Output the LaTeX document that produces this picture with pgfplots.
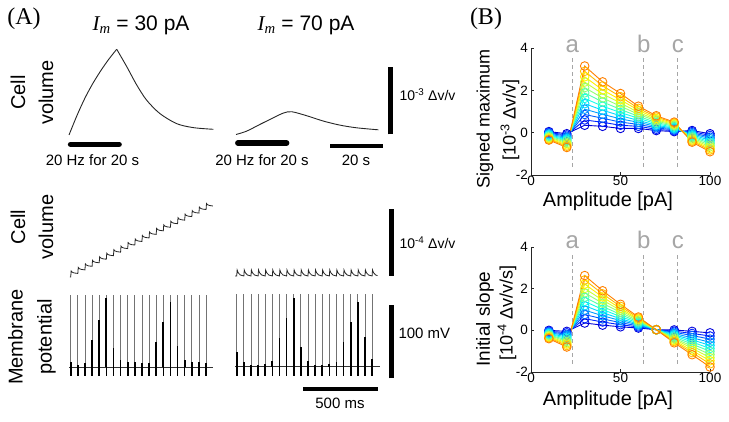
\documentclass[border=0pt]{standalone}
\usepackage{fontspec}
\setmainfont{Liberation Sans}
\newfontfamily\timesfont{Liberation Serif}
\usepackage{pgfplots}
\pgfplotsset{compat=1.18}
\usepackage{pgfplotstable}

\newcommand{\fs}[1]{\fontsize{#1}{#1}\selectfont}

\definecolor{c0}{rgb}{0,0,0.85}
\definecolor{c1}{rgb}{0,0.14,1}
\definecolor{c2}{rgb}{0,0.37,1}
\definecolor{c3}{rgb}{0,0.61,1}
\definecolor{c4}{rgb}{0,0.85,1}
\definecolor{c5}{rgb}{0.08,1,0.92}
\definecolor{c6}{rgb}{0.32,1,0.68}
\definecolor{c7}{rgb}{0.56,1,0.45}
\definecolor{c8}{rgb}{0.79,1,0.21}
\definecolor{c9}{rgb}{1,0.95,0}
\definecolor{c10}{rgb}{1,0.74,0}
\definecolor{c11}{rgb}{1,0.5,0}

% Panel B, top: signed maximum [1e-3 dv/v], 12 series
\pgfplotstableread{
x s0 s1 s2 s3 s4 s5 s6 s7 s8 s9 s10 s11
10 0.05 0.01 -0.02 -0.06 -0.10 -0.13 -0.17 -0.21 -0.24 -0.28 -0.31 -0.35
20 -0.05 -0.11 -0.17 -0.23 -0.29 -0.35 -0.40 -0.46 -0.52 -0.58 -0.64 -0.70
30 0.35 0.60 0.86 1.11 1.37 1.62 1.88 2.13 2.39 2.64 2.90 3.15
40 0.30 0.49 0.68 0.87 1.06 1.25 1.45 1.64 1.83 2.02 2.21 2.40
50 0.20 0.35 0.50 0.65 0.80 0.95 1.10 1.25 1.40 1.55 1.70 1.85
60 0.20 0.30 0.39 0.49 0.58 0.68 0.77 0.87 0.96 1.06 1.15 1.25
70 0.10 0.16 0.23 0.29 0.35 0.42 0.48 0.55 0.61 0.67 0.74 0.80
80 0.05 0.09 0.13 0.17 0.21 0.25 0.30 0.34 0.38 0.42 0.46 0.50
90 0.10 0.05 0.00 -0.05 -0.10 -0.15 -0.20 -0.25 -0.30 -0.35 -0.40 -0.45
100 -0.05 -0.13 -0.21 -0.28 -0.36 -0.44 -0.51 -0.59 -0.67 -0.75 -0.82 -0.90
}\tabmax

% Panel B, bottom: initial slope [1e-4 dv/v/s]
\pgfplotstableread{
x s0 s1 s2 s3 s4 s5 s6 s7 s8 s9 s10 s11
10 0.00 -0.04 -0.07 -0.11 -0.15 -0.18 -0.22 -0.25 -0.29 -0.33 -0.36 -0.40
20 -0.05 -0.12 -0.19 -0.25 -0.32 -0.39 -0.46 -0.53 -0.60 -0.66 -0.73 -0.80
30 0.35 0.56 0.76 0.97 1.18 1.39 1.59 1.80 2.01 2.22 2.42 2.63
40 0.25 0.40 0.55 0.70 0.85 1.00 1.15 1.30 1.45 1.60 1.75 1.90
50 0.17 0.27 0.37 0.47 0.56 0.66 0.76 0.86 0.96 1.05 1.15 1.25
60 0.11 0.16 0.21 0.26 0.30 0.35 0.40 0.45 0.50 0.54 0.59 0.64
70 0.03 0.03 0.03 0.03 0.03 0.03 0.03 0.03 0.03 0.03 0.03 0.03
80 0.02 -0.04 -0.09 -0.15 -0.21 -0.26 -0.32 -0.38 -0.43 -0.49 -0.54 -0.60
90 -0.05 -0.15 -0.25 -0.36 -0.46 -0.56 -0.66 -0.76 -0.86 -0.97 -1.07 -1.17
100 -0.12 -0.27 -0.42 -0.57 -0.72 -0.87 -1.01 -1.16 -1.31 -1.46 -1.61 -1.76
}\tabslope

% Membrane potential spikes (ms, mV above rest)
\pgfplotstableread{
t top blk dip
12 98 7.3 -13
62 98 2.7 -13
112 98 5.1 -13
162 98 37 -13
212 98 64.4 -13
262 98 94 -13
312 98 25.6 -13
362 98 9.6 -13
412 98 7.3 -13
462 98 7.3 -13
512 98 5.1 -13
562 98 5.1 -13
612 98 34.7 -13
662 98 62.1 -13
712 98 89.5 -13
762 98 28.8 -13
812 98 9.6 -13
862 98 7.3 -13
912 98 7.3 -13
962 98 5.1 -13
}\spikesA

\pgfplotstableread{
t top blk dip
12 99 20.5 -13
62 99 6.4 -13
112 99 2.3 -13
162 99 2.3 -13
212 99 3.7 -13
262 99 7.8 -13
312 99 39.3 -13
362 99 66.7 -13
412 99 94.5 -13
462 99 27.4 -13
512 99 7.8 -13
562 99 2.3 -13
612 99 2.3 -13
662 99 3.7 -13
712 99 6.8 -13
762 99 34.2 -13
812 99 61.2 -13
862 99 89 -13
912 99 41.1 -13
962 99 10.5 -13
}\spikesB

\pgfplotsset{
  trace/.style={scale only axis, hide axis, clip=false, anchor=south west},
  bstyle/.style={scale only axis, anchor=south west, width=179pt,
    xmin=0, xmax=100, ymin=-2, ymax=4,
    axis lines=left, axis line style={-, line width=0.8pt, black!85},
    tick align=inside, major tick length=3pt,
    xtick={0,50,100}, ytick={-2,0,2,4},
    tick style={black!85, line width=0.8pt},
    tick label style={font=\fs{13.5}, inner sep=1pt},
    yticklabel style={xshift=-2pt},
    /pgf/number format/assume math mode=true, clip=false},
}

\begin{document}
\begin{tikzpicture}[x=1pt,y=1pt]
\useasboundingbox (0,0) rectangle (729,421);

% ---------------- Panel A text ----------------
\node[font=\timesfont\fs{24}] at (24,402) {(A)};
\node[font=\fs{21}] at (141,396) {{\timesfont\itshape I\textsubscript{m}} = 30 pA};
\node[font=\fs{21}] at (306,396) {{\timesfont\itshape I\textsubscript{m}} = 70 pA};
\node[font=\fontsize{20}{28}\selectfont, rotate=90, align=center] at (32,328.5) {Cell\\volume};
\node[font=\fontsize{20}{28}\selectfont, rotate=90, align=center] at (32,194) {Cell\\volume};
\node[font=\fontsize{20}{29}\selectfont, rotate=90, align=center] at (32,84) {Membrane\\potential};
\node[font=\fs{15}] at (92.5,261) {20 Hz for 20 s};
\node[font=\fs{15}] at (262,261) {20 Hz for 20 s};
\node[font=\fs{15}] at (356,261) {20 s};
\node[font=\fs{14}, anchor=west] at (396,326) {10\textsuperscript{-3} Δv/v};
\node[font=\fs{14}, anchor=west] at (396,178) {10\textsuperscript{-4} Δv/v};
\node[font=\fs{15}, anchor=west] at (395,88) {100 mV};
\node[font=\fs{15}] at (340,17.5) {500 ms};

% slow volume, 30 pA (s, 1e-3 dv/v)
\begin{axis}[trace, at={(69pt,265.9pt)}, width=159pt, height=120.6pt,
  xmin=0, xmax=60, ymin=-0.3, ymax=1.5]
\addplot[black!85, line width=0.9pt, smooth] coordinates {(0,0) (3,0.29) (6,0.55) (9,0.77) (12,0.96) (15,1.13) (18,1.28)};
\addplot[black!85, line width=0.9pt, smooth] coordinates {(18,1.28) (21.8,1.02) (25.5,0.75) (29.3,0.52) (34.3,0.32) (40.6,0.17) (46.9,0.11) (54.5,0.085)};
\addplot[black, line width=5.5pt, line cap=round] coordinates {(0.6,-0.14) (18.9,-0.14)};
\end{axis}

% slow volume, 70 pA
\begin{axis}[trace, at={(236pt,266.4pt)}, width=159pt, height=120.6pt,
  xmin=0, xmax=60, ymin=-0.3, ymax=1.5]
\addplot[black!85, line width=0.9pt, smooth] coordinates {(0,0) (4.0,0.05) (9.0,0.15) (14.1,0.25) (17.9,0.32) (21.0,0.34) (26.7,0.28) (33.0,0.20) (39.2,0.14) (45.5,0.10) (53.7,0.07)};
\addplot[black, line width=5.5pt, line cap=round] coordinates {(0.7,-0.127) (19.1,-0.127)};
\addplot[black, line width=4.5pt] coordinates {(35.5,-0.17) (55.5,-0.17)};
\addplot[black, line width=5pt] coordinates {(58.3,0) (58.3,1)};
\end{axis}

% fast volume, 30 pA (ms, 1e-4 dv/v)
\begin{axis}[trace, at={(69pt,130.6pt)}, width=149.6pt, height=100.5pt,
  xmin=0, xmax=1050, ymin=-0.2, ymax=1.3]
\addplot[black!85, line width=0.8pt] coordinates {(7,0) (12,0) (15,0.09) (22,0.072) (37,0.06) (62,0.053) (65,0.143) (72,0.125) (87,0.113) (112,0.106) (115,0.196) (122,0.178) (137,0.166) (162,0.159) (165,0.249) (172,0.231) (187,0.219) (212,0.212) (215,0.302) (222,0.284) (237,0.272) (262,0.265) (265,0.355) (272,0.337) (287,0.325) (312,0.318) (315,0.408) (322,0.39) (337,0.378) (362,0.371) (365,0.461) (372,0.443) (387,0.431) (412,0.424) (415,0.514) (422,0.496) (437,0.484) (462,0.477) (465,0.567) (472,0.549) (487,0.537) (512,0.53) (515,0.62) (522,0.602) (537,0.59) (562,0.583) (565,0.673) (572,0.655) (587,0.643) (612,0.636) (615,0.726) (622,0.708) (637,0.696) (662,0.689) (665,0.779) (672,0.761) (687,0.749) (712,0.742) (715,0.832) (722,0.814) (737,0.802) (762,0.795) (765,0.885) (772,0.867) (787,0.855) (812,0.848) (815,0.938) (822,0.92) (837,0.908) (862,0.901) (865,0.991) (872,0.973) (887,0.961) (912,0.954) (915,1.044) (922,1.026) (937,1.014) (962,1.007) (965,1.097) (972,1.079) (987,1.067) (1010,1.06)};
\end{axis}

% fast volume, 70 pA
\begin{axis}[trace, at={(235pt,131.6pt)}, width=159.6pt, height=100.5pt,
  xmin=0, xmax=1120, ymin=-0.2, ymax=1.3]
\addplot[black!85, line width=0.8pt] coordinates {(0,0) (12,0) (15,0.09) (22,0.05) (37,0.015) (62,0) (65,0.09) (72,0.05) (87,0.015) (112,0) (115,0.09) (122,0.05) (137,0.015) (162,0) (165,0.09) (172,0.05) (187,0.015) (212,0) (215,0.09) (222,0.05) (237,0.015) (262,0) (265,0.09) (272,0.05) (287,0.015) (312,0) (315,0.09) (322,0.05) (337,0.015) (362,0) (365,0.09) (372,0.05) (387,0.015) (412,0) (415,0.09) (422,0.05) (437,0.015) (462,0) (465,0.09) (472,0.05) (487,0.015) (512,0) (515,0.09) (522,0.05) (537,0.015) (562,0) (565,0.09) (572,0.05) (587,0.015) (612,0) (615,0.09) (622,0.05) (637,0.015) (662,0) (665,0.09) (672,0.05) (687,0.015) (712,0) (715,0.09) (722,0.05) (737,0.015) (762,0) (765,0.09) (772,0.05) (787,0.015) (812,0) (815,0.09) (822,0.05) (837,0.015) (862,0) (865,0.09) (872,0.05) (887,0.015) (912,0) (915,0.09) (922,0.05) (937,0.015) (962,0) (965,0.09) (972,0.05) (987,0.015) (1000,0.005)};
\addplot[black, line width=5pt] coordinates {(1095,0) (1095,1)};
\end{axis}

% membrane potential, 30 pA (ms, mV rel. rest)
\begin{axis}[trace, at={(69pt,39.4pt)}, width=149.6pt, height=94.9pt,
  xmin=0, xmax=1050, ymin=-20, ymax=110]
\addplot[black!80, line width=0.8pt] coordinates {(0,0) (1010,0)};
\addplot[ycomb, black!55, line width=0.8pt] table[x=t, y=top] {\spikesA};
\addplot[ycomb, black, line width=1.8pt] table[x=t, y=blk] {\spikesA};
\addplot[ycomb, black, line width=1.6pt] table[x=t, y=dip] {\spikesA};
\end{axis}

% membrane potential, 70 pA
\begin{axis}[trace, at={(235pt,39.7pt)}, width=159.6pt, height=94.9pt,
  xmin=0, xmax=1120, ymin=-20, ymax=110]
\addplot[black!80, line width=0.8pt] coordinates {(0,0) (1018,0)};
\addplot[ycomb, black!55, line width=0.8pt] table[x=t, y=top] {\spikesB};
\addplot[ycomb, black, line width=1.8pt] table[x=t, y=blk] {\spikesB};
\addplot[ycomb, black, line width=1.6pt] table[x=t, y=dip] {\spikesB};
\addplot[black, line width=5pt] coordinates {(1095,-16) (1095,84)};
\addplot[black, line width=4.5pt] coordinates {(478,-30.5) (1003,-30.5)};
\end{axis}

% ---------------- Panel B ----------------
\node[font=\timesfont\fs{24}] at (486,402) {(B)};
\node[font=\fs{18}, rotate=90] at (485,302) {Signed maximum};
\node[font=\fs{18}, rotate=90] at (510,301) {[10\textsuperscript{-3} Δv/v]};
\node[font=\fs{20}] at (608,219.5) {Amplitude [pA]};
\node[font=\fs{19}, rotate=90] at (485,102) {Initial slope};
\node[font=\fs{18}, rotate=90] at (507,108) {[10\textsuperscript{-4} Δv/v/s]};
\node[font=\fs{20}] at (608,20.5) {Amplitude [pA]};

\begin{axis}[bstyle, at={(531pt,246pt)}, height=127pt]
\addplot[gray!70, line width=0.8pt, dash pattern=on 4pt off 3pt] coordinates {(23,-1.6) (23,3.6)};
\addplot[gray!70, line width=0.8pt, dash pattern=on 4pt off 3pt] coordinates {(63,-1.6) (63,3.6)};
\addplot[gray!70, line width=0.8pt, dash pattern=on 4pt off 3pt] coordinates {(82,-1.6) (82,3.6)};
\pgfplotsinvokeforeach{0,...,11}{
  \addplot[color=c#1, line width=0.9pt, mark=o, mark size=4.3pt, mark options={line width=0.9pt}] table[x=x, y=s#1] {\tabmax};
}
\node[gray!70, font=\fs{24}, anchor=base] at (axis cs:23,3.78) {a};
\node[gray!70, font=\fs{24}, anchor=base] at (axis cs:63,3.78) {b};
\node[gray!70, font=\fs{24}, anchor=base] at (axis cs:82,3.78) {c};
\end{axis}

\begin{axis}[bstyle, at={(531pt,49pt)}, height=125pt]
\addplot[gray!70, line width=0.8pt, dash pattern=on 4pt off 3pt] coordinates {(23,-1.6) (23,3.65)};
\addplot[gray!70, line width=0.8pt, dash pattern=on 4pt off 3pt] coordinates {(63,-1.6) (63,3.65)};
\addplot[gray!70, line width=0.8pt, dash pattern=on 4pt off 3pt] coordinates {(82,-1.6) (82,3.65)};
\pgfplotsinvokeforeach{0,...,11}{
  \addplot[color=c#1, line width=0.9pt, mark=o, mark size=4.3pt, mark options={line width=0.9pt}] table[x=x, y=s#1] {\tabslope};
}
\node[gray!70, font=\fs{24}, anchor=base] at (axis cs:23,3.93) {a};
\node[gray!70, font=\fs{24}, anchor=base] at (axis cs:63,3.93) {b};
\node[gray!70, font=\fs{24}, anchor=base] at (axis cs:82,3.93) {c};
\end{axis}

\end{tikzpicture}
\end{document}
